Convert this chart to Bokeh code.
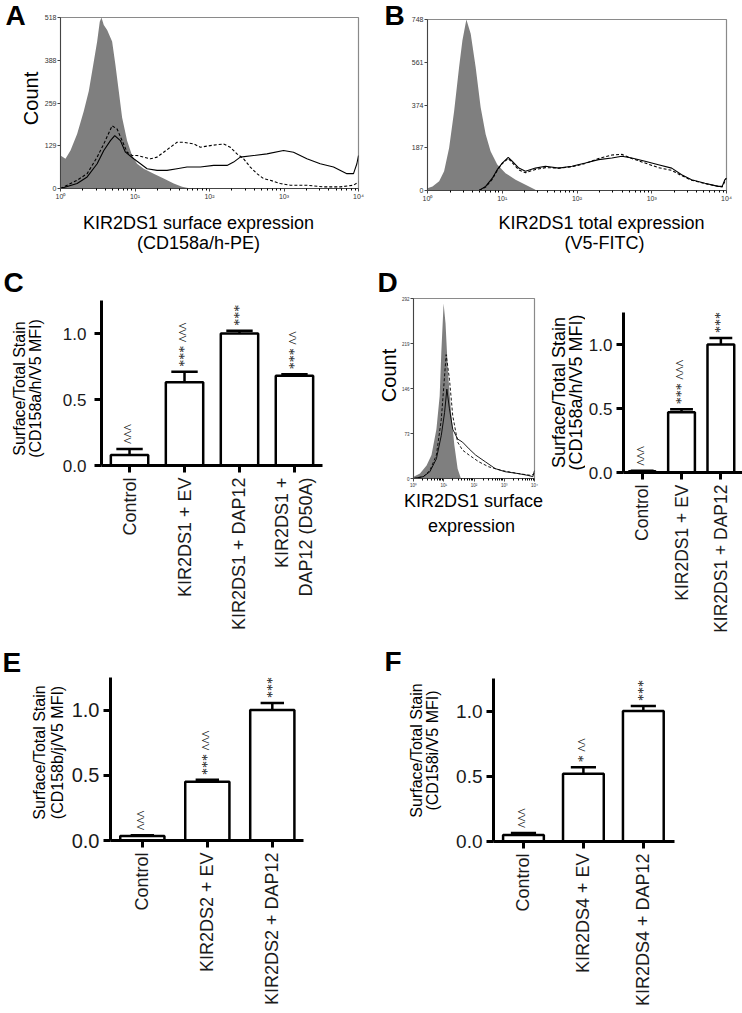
import math
from bokeh.plotting import figure
from bokeh.models import Range1d, FixedTicker, LabelSet, ColumnDataSource
from bokeh.core.properties import value
from bokeh.layouts import column, row
from bokeh.embed import file_html
from bokeh.resources import INLINE

FONT = "Liberation Sans"

# ---------------- histogram data (log10 fluorescence, count) ----------------
# Panel A  (KIR2DS1 surface, CD158a/h-PE)
A_iso_exp = [0.0, 0.067, 0.134, 0.223, 0.313, 0.380, 0.447, 0.492, 0.527, 0.550, 0.581, 0.626,
             0.693, 0.737, 0.782, 0.827, 0.894, 0.961, 1.028, 1.117, 1.251, 1.385, 1.520, 1.631, 1.743]
A_iso_cnt = [100, 90, 115, 165, 235, 295, 385, 445, 505, 518, 495, 480,
             445, 375, 295, 215, 145, 100, 75, 60, 45, 30, 15, 5, 0]
A_ev_exp = [0.0, 0.223, 0.358, 0.492, 0.581, 0.670, 0.728, 0.804, 0.872, 0.983, 1.073, 1.162,
            1.296, 1.430, 1.564, 1.698, 1.877, 2.056, 2.235, 2.324, 2.413, 2.592, 2.771, 2.994,
            3.128, 3.307, 3.486, 3.665, 3.844, 3.933, 3.978, 4.0]
A_ev_cnt = [0, 15, 35, 75, 115, 145, 160, 145, 110, 90, 75, 60,
            55, 55, 60, 65, 65, 70, 70, 80, 95, 100, 105, 115,
            110, 90, 75, 65, 45, 45, 75, 100]
A_dap_exp = [0.0, 0.223, 0.358, 0.492, 0.581, 0.693, 0.760, 0.827, 0.894, 0.961, 1.028, 1.117,
             1.207, 1.296, 1.385, 1.475, 1.564, 1.654, 1.788, 1.877, 2.011, 2.190, 2.279, 2.369,
             2.458, 2.547, 2.637, 2.726, 2.816, 2.950, 3.084, 3.307, 3.531, 3.754, 3.933, 4.0]
A_dap_cnt = [0, 25, 45, 95, 135, 190, 180, 145, 110, 100, 100, 95,
             90, 95, 110, 125, 140, 140, 135, 125, 130, 135, 125, 105,
             90, 65, 45, 30, 25, 15, 10, 10, 5, 5, 10, 20]
A_yticks = [0, 129, 259, 388, 518]

# Panel B  (KIR2DS1 total, V5-FITC)
B_iso_exp = [0.0, 0.067, 0.156, 0.222, 0.289, 0.356, 0.422, 0.467, 0.520, 0.578, 0.644, 0.711,
             0.778, 0.844, 0.933, 1.044, 1.178, 1.311, 1.444]
B_iso_cnt = [10, 18, 40, 84, 186, 347, 538, 656, 748, 686, 540, 364,
             246, 172, 114, 76, 47, 25, 3]
B_ev_exp = [0.689, 0.778, 0.867, 0.933, 1.0, 1.08, 1.133, 1.222, 1.311, 1.444, 1.578, 1.756,
            1.933, 2.111, 2.289, 2.467, 2.6, 2.733, 2.911, 3.089, 3.267, 3.4, 3.533, 3.711,
            3.889, 3.942, 3.978, 4.0]
B_ev_cnt = [0, 18, 54, 91, 120, 145, 128, 98, 84, 98, 106, 98,
            106, 120, 135, 142, 150, 142, 128, 113, 98, 69, 47, 32,
            18, 18, 47, 54]
B_dap_exp = B_ev_exp
B_dap_cnt = [0, 15, 50, 88, 118, 140, 122, 90, 78, 92, 100, 98,
             104, 118, 140, 155, 158, 140, 120, 100, 88, 65, 45, 30,
             18, 15, 40, 55]
B_yticks = [0, 187, 374, 561, 748]

# Panel D histogram
D_iso_exp = [0.0, 0.216, 0.432, 0.595, 0.757, 0.865, 0.919, 0.995, 1.059, 1.135, 1.243, 1.351, 1.459, 1.568]
D_iso_cnt = [3, 8, 21, 38, 80, 134, 204, 284, 252, 177, 107, 54, 16, 0]
D_ev_exp = [0.0, 0.324, 0.541, 0.757, 0.919, 1.027, 1.103, 1.189, 1.297, 1.459, 1.622, 1.838,
            2.054, 2.378, 2.703, 3.027, 3.459, 3.784, 3.946, 4.0]
D_ev_cnt = [0, 3, 11, 32, 70, 107, 145, 113, 80, 64, 59, 48, 38, 27, 16, 11, 8, 5, 3, 13]
D_dap_exp = [0.0, 0.324, 0.541, 0.757, 0.919, 1.027, 1.08, 1.189, 1.297, 1.459, 1.622, 1.838,
             2.162, 2.486, 2.919, 3.459, 3.892, 4.0]
D_dap_cnt = [0, 3, 13, 38, 96, 166, 201, 161, 102, 59, 46, 38, 27, 19, 13, 8, 5, 8]
D_yticks = [0, 73, 146, 219, 292]

# ---------------- bar data ----------------
C_labels = ["Control", "KIR2DS1 + EV", "KIR2DS1 + DAP12", "KIR2DS1 +\nDAP12 (D50A)"]
C_vals = [0.08, 0.63, 1.00, 0.68]
C_err = [0.045, 0.08, 0.02, 0.012]
C_sig = ["^^^", "*** ^^^", "***", "*** ^^"]

Db_labels = ["Control", "KIR2DS1 + EV", "KIR2DS1 + DAP12"]
Db_vals = [0.01, 0.47, 1.00]
Db_err = [0.003, 0.025, 0.05]
Db_sig = ["^^^", "*** ^^^", "***"]

E_labels = ["Control", "KIR2DS2 + EV", "KIR2DS2 + DAP12"]
E_vals = [0.035, 0.45, 1.00]
E_err = [0.005, 0.015, 0.055]
E_sig = ["^^^", "*** ^^^", "***"]

F_labels = ["Control", "KIR2DS4 + EV", "KIR2DS4 + DAP12"]
F_vals = [0.05, 0.52, 1.00]
F_err = [0.015, 0.05, 0.04]
F_sig = ["^^^", "* ^^", "***"]

Y_TICKS = [0, 0.5, 1.0]
Y_TICK_LABELS = ["0.0", "0.5", "1.0"]

SUP = ["10\u2070", "10\u00b9", "10\u00b2", "10\u00b3", "10\u2074"]

# ---------------- layout geometry (page px) ----------------
# figure boxes: (left, top, width, height); frames: (left, top, right, bottom)
FIG_A, FR_A = (41, 0, 330, 206), (60, 17, 358, 188)
FIG_B, FR_B = (408, 0, 334, 206), (426, 19, 726, 190)
FIG_C, FR_C = (48, 262, 323, 383), (101, 300, 322, 465)
FIG_DH, FR_DH = (398, 262, 150, 228), (411, 298, 534, 480)
FIG_DB, FR_DB = (585, 262, 157, 383), (621, 312, 742, 472)
FIG_E, FR_E = (68, 645, 303, 366), (110, 677, 303, 840)
FIG_F, FR_F = (442, 645, 300, 366), (493, 678, 674, 841)


def solo(fig):
    """Wrap a figure on its own so that a row does not line up its frame with its neighbours'."""
    return column(fig)


def base_fig(fig_box, frame, **kw):
    fx, fy, fw, fh = fig_box
    x0, y0, x1, y1 = frame
    p = figure(width=fw, height=fh,
               min_border_left=x0 - fx, min_border_right=fx + fw - x1,
               min_border_top=y0 - fy, min_border_bottom=fy + fh - y1,
               toolbar_location=None, output_backend="svg", **kw)
    p.grid.visible = False
    p.background_fill_color = "white"
    p.border_fill_color = "white"
    return p


def text_fig(box, items):
    """A borderless figure whose data space is the page's pixel space (y negated), text only."""
    bx, by, bw, bh = box
    p = figure(width=bw, height=bh, x_range=Range1d(bx, bx + bw), y_range=Range1d(-(by + bh), -by),
               min_border_left=0, min_border_right=0, min_border_top=0, min_border_bottom=0,
               toolbar_location=None, output_backend="svg",
               x_axis_location=None, y_axis_location=None)
    p.outline_line_color = None
    p.grid.visible = False
    p.background_fill_color = "white"
    p.border_fill_color = "white"
    for (x, y, t, size, angle, align, bold) in items:
        p.text(x=[x], y=[-y], text=[t], angle=angle, text_align=align, text_baseline="middle",
               text_font=value(FONT), text_font_size=value(f"{size}px"),
               text_font_style="bold" if bold else "normal", text_color="black")
    return p


def histogram(fig_box, frame, yticks, iso, ev, dap, tick_size, lw):
    p = base_fig(fig_box, frame, x_axis_type="log", x_range=Range1d(1, 1e4),
                 y_range=Range1d(0, yticks[-1]))
    p.varea(x=[10 ** e for e in iso[0]], y1=0, y2=iso[1], fill_color="#7f7f7f")
    p.line([10 ** e for e in ev[0]], ev[1], line_color="black", line_width=lw)
    p.line([10 ** e for e in dap[0]], dap[1], line_color="black", line_width=lw, line_dash="3 2")
    p.outline_line_color = "#8a8a8a"
    p.outline_line_width = 1.2
    xa, ya = p.xaxis[0], p.yaxis[0]
    xa.ticker = FixedTicker(ticks=[10 ** k for k in range(5)],
                            minor_ticks=[m * 10 ** k for k in range(4) for m in range(2, 10)])
    xa.major_label_overrides = {10 ** k: SUP[k] for k in range(5)}
    ya.ticker = FixedTicker(ticks=yticks)
    for ax in (xa, ya):
        ax.axis_line_color = "#444444"
        ax.axis_line_width = 1
        ax.major_tick_line_color = "#444444"
        ax.major_tick_out = 3
        ax.major_tick_in = 0
        ax.minor_tick_out = 2
        ax.minor_tick_in = 0
        ax.major_label_text_font = FONT
        ax.major_label_text_font_size = f"{tick_size}px"
        ax.major_label_text_color = "#333333"
        ax.major_label_standoff = 1
    ya.minor_tick_line_color = None
    return p


def barpanel(fig_box, frame, labels, vals, errs, sigs, x_start, x_end, tick_size, cat_size,
             cap_half, tick_standoff, sig_size=14):
    p = base_fig(fig_box, frame, x_range=Range1d(x_start, x_end), y_range=Range1d(0, 1.25))
    p.outline_line_color = None
    xs = list(range(len(vals)))
    tops = [v + e for v, e in zip(vals, errs)]
    p.segment(x0=xs, y0=vals, x1=xs, y1=tops, line_color="black", line_width=2.5)
    p.segment(x0=[x - cap_half for x in xs], y0=tops, x1=[x + cap_half for x in xs], y1=tops,
              line_color="black", line_width=2.5)
    p.vbar(x=xs, top=vals, bottom=0, width=0.68, fill_color="white", line_color="black",
           line_width=2.5)
    src = ColumnDataSource(dict(x=xs, y=tops, t=sigs))
    p.add_layout(LabelSet(x="x", y="y", text="t", source=src, angle=math.pi / 2,
                          text_align="left", text_baseline="middle", y_offset=5,
                          text_font=FONT, text_font_size=f"{sig_size}px", text_color="#111111"))
    xa, ya = p.xaxis[0], p.yaxis[0]
    for ax in (xa, ya):
        ax.axis_line_color = "black"
        ax.axis_line_width = 3
        ax.major_tick_line_color = "black"
        ax.major_tick_line_width = 3
        ax.major_tick_out = 7
        ax.major_tick_in = 0
        ax.minor_tick_line_color = None
        ax.major_label_text_font = FONT
        ax.major_label_text_color = "#1a1a1a"
    ya.ticker = FixedTicker(ticks=Y_TICKS)
    ya.major_label_overrides = dict(zip(Y_TICKS, Y_TICK_LABELS))
    ya.major_label_text_font_size = f"{tick_size}px"
    ya.major_label_standoff = tick_standoff
    xa.ticker = FixedTicker(ticks=xs)
    xa.major_label_overrides = {i: l for i, l in enumerate(labels)}
    xa.major_label_orientation = math.pi / 2
    xa.major_label_text_font_size = f"{cat_size}px"
    xa.major_label_standoff = 5
    return p


V = math.pi / 2  # vertical text, reading bottom to top

# ---------------- row 1: panels A and B ----------------
pA = histogram(FIG_A, FR_A, A_yticks, (A_iso_exp, A_iso_cnt), (A_ev_exp, A_ev_cnt),
               (A_dap_exp, A_dap_cnt), 7, 1.1)
pB = histogram(FIG_B, FR_B, B_yticks, (B_iso_exp, B_iso_cnt), (B_ev_exp, B_ev_cnt),
               (B_dap_exp, B_dap_cnt), 7, 1.1)
tA = text_fig((0, 0, 41, 206), [
    (5, 15, "A", 28, 0.0, "left", True),
    (30, 98, "Count", 20, V, "center", False),
])
tB = text_fig((371, 0, 37, 206), [
    (384, 15, "B", 28, 0.0, "left", True),
])
tAB = text_fig((0, 206, 742, 56), [
    (198, 222, "KIR2DS1 surface expression", 18, 0.0, "center", False),
    (198, 242, "(CD158a/h-PE)", 18, 0.0, "center", False),
    (601, 222, "KIR2DS1 total expression", 18, 0.0, "center", False),
    (604, 242, "(V5-FITC)", 18, 0.0, "center", False),
])
row1 = column(row(solo(tA), solo(pA), solo(tB), solo(pB)), tAB)

# ---------------- row 2: panels C and D ----------------
pC = barpanel(FIG_C, FR_C, C_labels, C_vals, C_err, C_sig, -0.51, 3.51, 17, 18, 0.24, 8)
tC = text_fig((0, 262, 48, 383), [
    (3, 282, "C", 28, 0.0, "left", True),
    (19, 388, "Surface/Total Stain", 16, V, "center", False),
    (35, 388, "(CD158a/h/V5 MFI)", 16, V, "center", False),
])
pDh = histogram(FIG_DH, FR_DH, D_yticks, (D_iso_exp, D_iso_cnt), (D_ev_exp, D_ev_cnt),
                (D_dap_exp, D_dap_cnt), 4.5, 0.9)
tD = text_fig((371, 262, 27, 228), [
    (377, 282, "D", 28, 0.0, "left", True),
    (388, 375, "Count", 20, V, "center", False),
])
tDt = text_fig((371, 490, 177, 155), [
    (473, 500, "KIR2DS1 surface", 18, 0.0, "center", False),
    (471, 525, "expression", 18, 0.0, "center", False),
])
pDb = barpanel(FIG_DB, FR_DB, Db_labels, Db_vals, Db_err, Db_sig, -0.475, 2.55, 17, 17.5, 0.29, 4)
tDb = text_fig((548, 262, 37, 383), [
    (558, 392, "Surface/Total Stain", 18, V, "center", False),
    (575, 392, "(CD158a/h/V5 MFI)", 18, V, "center", False),
])
row2 = row(solo(tC), solo(pC), column(row(solo(tD), solo(pDh)), tDt), solo(tDb), solo(pDb))

# ---------------- row 3: panels E and F ----------------
pE = barpanel(FIG_E, FR_E, E_labels, E_vals, E_err, E_sig, -0.49, 2.48, 20, 18, 0.18, 4)
tE = text_fig((0, 645, 68, 366), [
    (2, 662, "E", 28, 0.0, "left", True),
    (39, 752, "Surface/Total Stain", 16, V, "center", False),
    (57, 752, "(CD158b/j/V5 MFI)", 16, V, "center", False),
])
pF = barpanel(FIG_F, FR_F, F_labels, F_vals, F_err, F_sig, -0.5, 2.52, 19, 18, 0.21, 4)
tF = text_fig((371, 645, 71, 366), [
    (384, 661, "F", 28, 0.0, "left", True),
    (416, 750, "Surface/Total Stain", 16, V, "center", False),
    (432, 750, "(CD158i/V5 MFI)", 16, V, "center", False),
])
row3 = row(solo(tE), solo(pE), solo(tF), solo(pF))

layout = column(row1, row2, row3)
open("out.html", "w").write(file_html(layout, INLINE, "KIR2DS figure"))
